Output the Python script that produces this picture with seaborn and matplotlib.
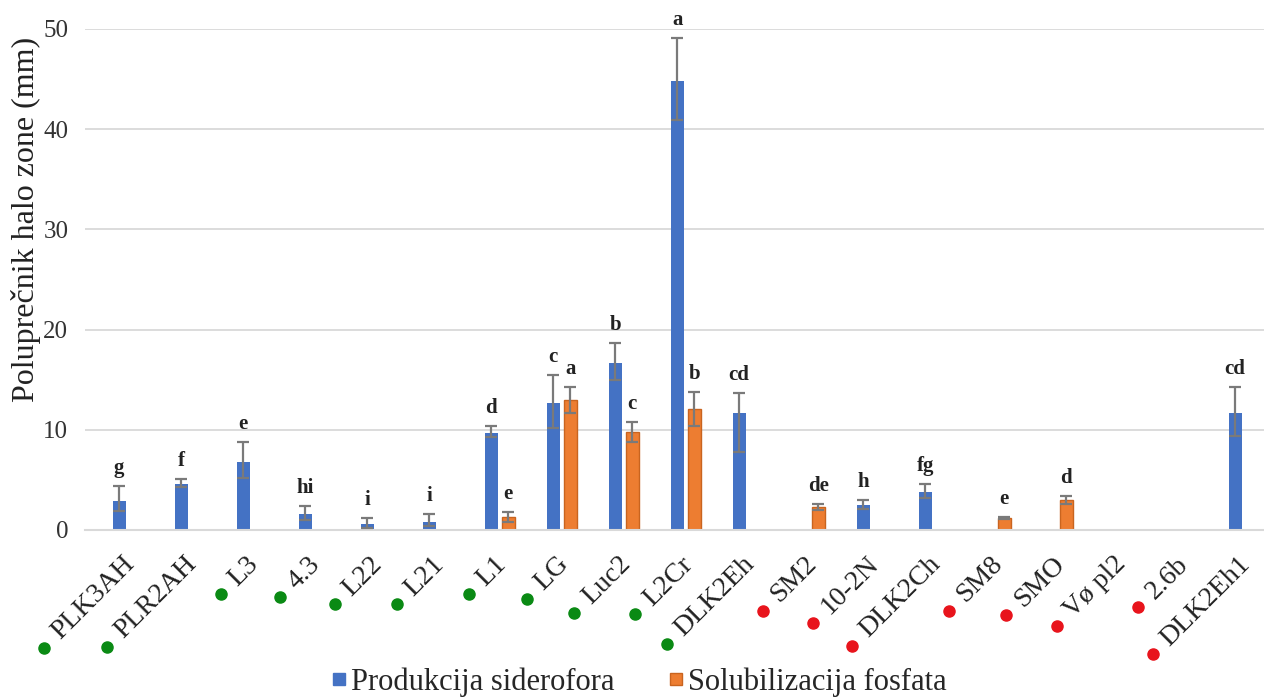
import numpy as np
import pandas as pd
import matplotlib
matplotlib.use("Agg")
import matplotlib.pyplot as plt
import seaborn as sns
from matplotlib.lines import Line2D
from matplotlib.transforms import ScaledTranslation

nan = np.nan

# strains on the x axis
strains = ["PLK3AH", "PLR2AH", "L3", "4.3", "L22", "L21", "L1", "LG", "Luc2", "L2Cr",
           "DLK2Eh", "SM2", "10-2N", "DLK2Ch", "SM8", "SMO", "Vø pl2", "2.6b", "DLK2Eh1"]
# dot colour in front of each label (green / red group)
strain_group = ["g"] * 11 + ["r"] * 8

# Produkcija siderofora
siderofora = [2.9, 4.6, 6.8, 1.6, 0.6, 0.8, 9.7, 12.7, 16.7, 44.8,
              11.7, nan, 2.5, 3.8, nan, nan, nan, nan, 11.7]
sid_err_lo = [1.0, 0.3, 1.6, 0.6, 0.4, 0.4, 0.4, 2.5, 1.7, 3.9,
              3.9, 0, 0.4, 0.6, 0, 0, 0, 0, 2.3]
sid_err_hi = [1.5, 0.5, 2.0, 0.8, 0.6, 0.8, 0.7, 2.8, 2.0, 4.3,
              2.0, 0, 0.5, 0.8, 0, 0, 0, 0, 2.6]
sid_letters = ["g", "f", "e", "hi", "i", "i", "d", "c", "b", "a",
               "cd", "", "h", "fg", "", "", "", "", "cd"]

# Solubilizacija fosfata
fosfata = [nan, nan, nan, nan, nan, nan, 1.3, 13.0, 9.8, 12.1,
           nan, 2.3, nan, nan, 1.2, 3.0, nan, nan, nan]
fos_err = [0, 0, 0, 0, 0, 0, 0.5, 1.3, 1.0, 1.7,
           0, 0.3, 0, 0, 0.1, 0.4, 0, 0, 0]
fos_letters = ["", "", "", "", "", "", "e", "a", "c", "b",
               "", "de", "", "", "e", "d", "", "", ""]

series = ["Produkcija siderofora", "Solubilizacija fosfata"]
blue = "#4472C4"
orange = "#ED7D31"

df = pd.DataFrame({
    "Soj": strains * 2,
    "Vrednost": siderofora + fosfata,
    "Test": [series[0]] * len(strains) + [series[1]] * len(strains),
})

sns.set_theme(style="white")
plt.rcParams["font.family"] = ["Liberation Serif", "DejaVu Serif"]

fig = plt.figure(figsize=(12.64, 6.99), dpi=100)
ax = fig.add_axes([85 / 1264, 1 - 530 / 699, 1 - 85 / 1264, 501 / 699])

group_w = 0.55
sns.barplot(data=df, x="Soj", y="Vrednost", hue="Test", order=strains, hue_order=series,
            palette=[blue, orange], saturation=1, width=group_w, errorbar=None,
            legend=False, ax=ax)

# narrow the bars a little (Excel-like gap between the pair)
bar_w = 0.21
for i, cont in enumerate(ax.containers):
    for bar in cont:
        c = bar.get_x() + bar.get_width() / 2
        bar.set_width(bar_w)
        bar.set_x(c - bar_w / 2)
        bar.set_linewidth(0)
        if i == 1:
            bar.set_edgecolor("#C9641F")
            bar.set_linewidth(1.0)

off = group_w / 4
x = np.arange(len(strains))
err_kw = dict(fmt="none", ecolor="#7a7a7a", elinewidth=1.6, capsize=4, capthick=1.6, zorder=5)
ax.errorbar(x - off, siderofora, yerr=[sid_err_lo, sid_err_hi], **err_kw)
ax.errorbar(x + off, fosfata, yerr=[fos_err, fos_err], **err_kw)

# significance letters
for xi, v, e, t in zip(x - off, siderofora, sid_err_hi, sid_letters):
    if t:
        ax.text(xi, v + e + 1.25, t, ha="center", va="baseline", fontsize=15,
                fontweight="bold", color="#222222", clip_on=False)
for xi, v, e, t in zip(x + off, fosfata, fos_err, fos_letters):
    if t:
        ax.text(xi, v + e + 1.25, t, ha="center", va="baseline", fontsize=15,
                fontweight="bold", color="#222222", clip_on=False)

ax.set_xlim(-0.69, 18.33)
ax.set_ylim(0, 50)
ax.set_yticks(range(0, 51, 10))
ax.yaxis.grid(True, color="#d9d9d9", linewidth=1.3)
ax.set_axisbelow(True)
for s in ["top", "right", "left"]:
    ax.spines[s].set_visible(False)
ax.spines["bottom"].set_color("#d9d9d9")
ax.spines["bottom"].set_linewidth(1.5)
ax.tick_params(axis="y", length=0, labelsize=18, labelcolor="#333333", pad=12)
ax.tick_params(axis="x", length=0, pad=22)

ax.set_xlabel("")
ax.set_ylabel("Poluprečnik halo zone (mm)", fontsize=23, color="#222222")
ax.yaxis.set_label_coords(-0.037, 0.62)

ax.set_xticks(x)
ax.set_xticklabels(strains, rotation=45, ha="right", va="center", rotation_mode="anchor",
                   fontsize=20, color="#222222")
shift = ScaledTranslation(3 / 100, 0, fig.dpi_scale_trans)
for lbl in ax.get_xticklabels():
    lbl.set_transform(lbl.get_transform() + shift)

# coloured dots before each tick label
fig.canvas.draw()
renderer = fig.canvas.get_renderer()
W, H = fig.bbox.width, fig.bbox.height
h = 20 * 100 / 72 * 0.9
dot_col = {"g": "#0a8a14", "r": "#e8141c"}
for lbl, grp in zip(ax.get_xticklabels(), strain_group):
    bb = lbl.get_window_extent(renderer)
    px = bb.x0 + 0.3 * h - 15 * 0.707
    py = bb.y0 + 0.3 * h - 15 * 0.707
    fig.add_artist(Line2D([px / W], [py / H], marker="o", ms=8, ls="none",
                          color=dot_col[grp], transform=fig.transFigure))

handles = [Line2D([], [], marker="s", ls="none", color=blue, ms=8),
           Line2D([], [], marker="s", ls="none", color=orange, mec="#C9641F", ms=8)]
fig.legend(handles, series, loc="lower center", bbox_to_anchor=(0.505, -0.028), ncol=2,
           frameon=False, fontsize=22, handletextpad=0.1, columnspacing=1.7,
           handlelength=0.6, borderpad=0.2)

fig.savefig("out.png", dpi=100)
